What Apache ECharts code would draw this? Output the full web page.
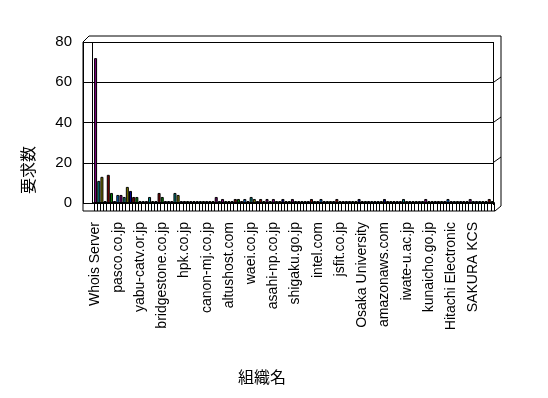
<!DOCTYPE html>
<html>
<head>
<meta charset="utf-8">
<script src="https://cdn.jsdelivr.net/npm/echarts@6/dist/echarts.min.js"></script>
<style>html,body{margin:0;padding:0;background:#fff}#c{width:548px;height:398px}</style>
</head>
<body>
<div id="c"></div>
<script>
// Labelled organisation names (every 7th category is labelled on the axis)
const labelNames = ['Whois Server','pasco.co.jp','yabu-catv.or.jp','bridgestone.co.jp','hpk.co.jp','canon-mj.co.jp','altushost.com','waei.co.jp','asahi-np.co.jp','shigaku.go.jp','intel.com','jsfit.co.jp','Osaka University','amazonaws.com','iwate-u.ac.jp','kunaicho.go.jp','Hitachi Electronic','SAKURA KCS'];
// Request counts per organisation
const values = [
 72,11,13,1,14,5,1,4,4,3,
 8,6,3,3,1,1,1,3,1,1,
 5,3,1,1,1,5,4,1,1,1,
 1,1,1,1,1,1,1,1,3,1,
 2,1,1,1,2,2,1,2,1,3,
 2,1,2,1,2,1,2,1,1,2,
 1,1,2,1,1,1,1,1,2,1,
 1,2,1,1,1,1,2,1,1,1,
 1,1,1,2,1,1,1,1,1,1,
 1,2,1,1,1,1,1,2,1,1,
 1,1,1,1,2,1,1,1,1,1,
 1,2,1,1,1,1,1,1,2,1,
 1,1,1,1,2,1
];
const yTicks = [0,20,40,60,80];
const yAxisTitle = '要求数';
const xAxisTitle = '組織名';

const categories = values.map((v,i) => (i % 7 === 0 && labelNames[i/7]) ? labelNames[i/7] : ('org ' + (i+1)));
const palette = ['#800080','#008080','#808000','#000080','#800000','#008000','#660066','#0066CC'];
const FONT = "'Liberation Sans','Noto Sans CJK JP',sans-serif";

const chart = echarts.init(document.getElementById('c'), null, {renderer:'canvas'});
chart.setOption({
  animation:false,
  backgroundColor:'#fff',
  grid:[
    {left:83, right:55, top:42, bottom:195},
    {left:94, right:54, top:42, bottom:195}
  ],
  xAxis:[
    {gridIndex:0, type:'category', data:categories, show:false},
    {gridIndex:1, type:'category', data:categories,
     axisLine:{show:true, lineStyle:{color:'#000', width:2}},
     axisTick:{show:true, interval:0, length:8, lineStyle:{color:'#000', width:1}},
     axisLabel:{interval:6, rotate:90, margin:19, color:'#000', fontSize:14, fontFamily:FONT},
     splitLine:{show:false}}
  ],
  yAxis:[
    {gridIndex:0, type:'value', min:yTicks[0], max:yTicks[yTicks.length-1], interval:20,
     axisLine:{show:true, lineStyle:{color:'#000', width:1}},
     axisTick:{show:false},
     axisLabel:{margin:11, color:'#000', fontSize:15, fontFamily:FONT},
     splitLine:{show:true, lineStyle:{color:'#000', width:1}}},
    {gridIndex:1, type:'value', min:yTicks[0], max:yTicks[yTicks.length-1], interval:20, show:false, splitLine:{show:false}}
  ],
  series:[{
    type:'bar', xAxisIndex:1, yAxisIndex:1, data:values, barWidth:3,
    itemStyle:{color:(p)=>palette[p.dataIndex % palette.length], borderColor:'#000', borderWidth:1}
  }],
  graphic:[
    {type:'polyline', shape:{points:[[83,211],[83,42],[89,36],[501,36],[501,206],[495,211],[83,211]]}, style:{stroke:'#000', fill:null, lineWidth:1}},
    {type:'line', shape:{x1:92.5,y1:42,x2:92.5,y2:203}, style:{stroke:'#000', lineWidth:1}},
    {type:'line', shape:{x1:493.5,y1:42,x2:493.5,y2:205}, style:{stroke:'#000', lineWidth:1}},
    {type:'line', shape:{x1:494,y1:162,x2:501,y2:157}, style:{stroke:'#000', lineWidth:1}},
    {type:'line', shape:{x1:494,y1:122,x2:501,y2:117}, style:{stroke:'#000', lineWidth:1}},
    {type:'line', shape:{x1:494,y1:82,x2:501,y2:77}, style:{stroke:'#000', lineWidth:1}},
    {type:'text', x:28, y:170, rotation:Math.PI/2,
     style:{text:yAxisTitle, fill:'#000', font:"16px 'Noto Sans CJK JP'", textAlign:'center', textVerticalAlign:'middle'}},
    {type:'text', x:262, y:377,
     style:{text:xAxisTitle, fill:'#000', font:"16px 'Noto Sans CJK JP'", textAlign:'center', textVerticalAlign:'middle'}}
  ]
});
</script>
</body>
</html>
